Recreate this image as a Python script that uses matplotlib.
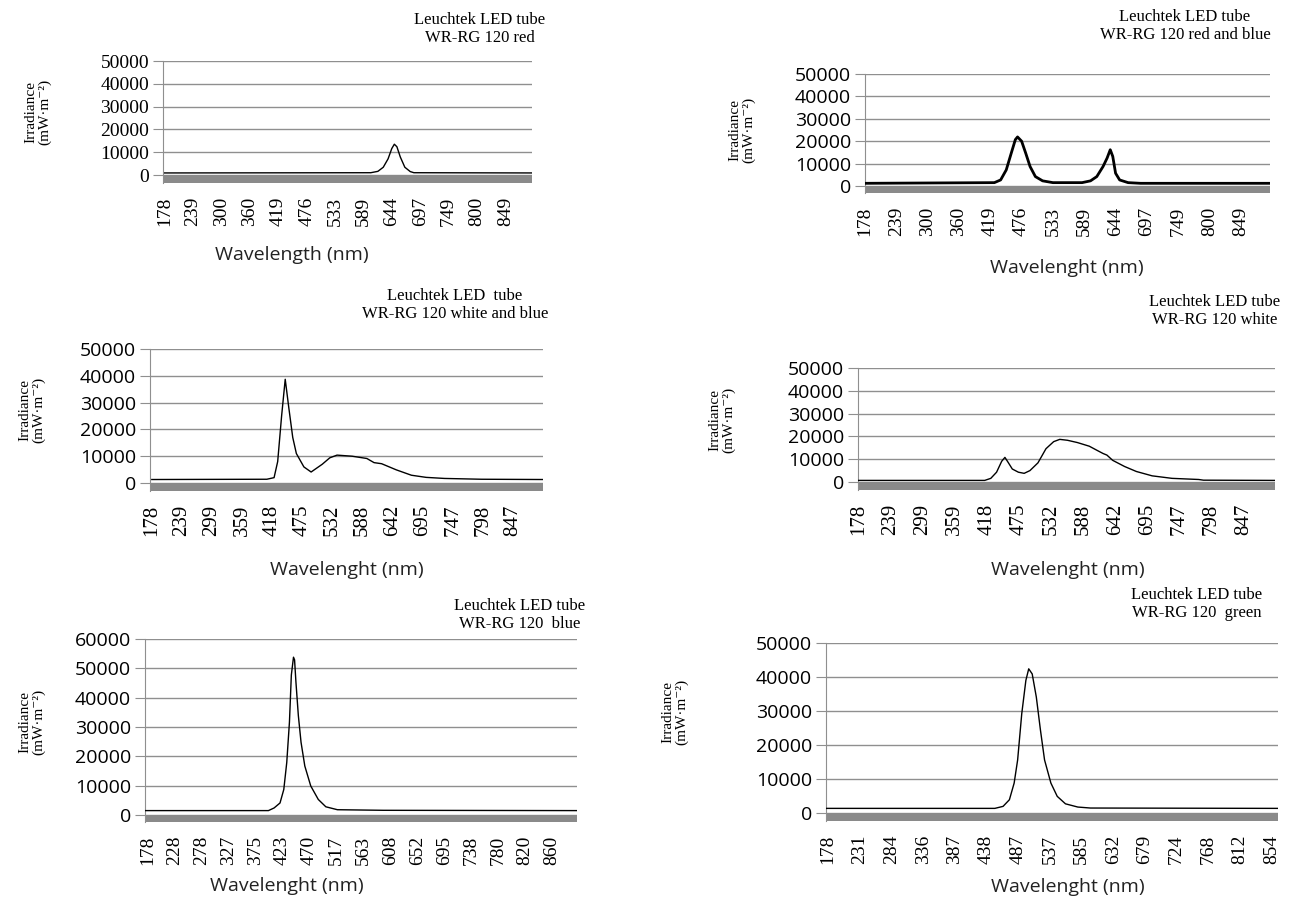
import matplotlib.pyplot as plt

W, H = 1294, 900

# spectra, x in category-axis units (one unit per labelled wavelength)
red_ticks = [178, 239, 300, 360, 419, 476, 533, 589, 644, 697, 749, 800, 849]
red_x = [0, 7.26, 7.51, 7.7, 7.87, 8.0, 8.09, 8.18, 8.3, 8.46, 8.65, 8.78, 12.94]
red_y = [900, 1000, 1600, 3400, 7100, 11600, 13500, 12400, 7900, 3400, 1500, 1000, 900]

rb_ticks = [178, 239, 300, 360, 419, 476, 533, 589, 644, 697, 749, 800, 849]
rb_x = [0, 4.13, 4.33, 4.51, 4.67, 4.8, 4.87, 5.0, 5.13, 5.27, 5.44, 5.67, 6.0,
        6.93, 7.2, 7.4, 7.6, 7.73, 7.83, 7.91, 8.0, 8.13, 8.4, 8.8, 12.93]
rb_y = [1200, 1500, 2700, 7200, 14700, 20700, 21900, 20000, 14700, 8700, 4200, 2300, 1500,
        1500, 2300, 4200, 8700, 12500, 16200, 13200, 5700, 2700, 1500, 1200, 1200]

wb_ticks = [178, 239, 299, 359, 418, 475, 532, 588, 642, 695, 747, 798, 847]
wb_x = [0, 3.82, 4.06, 4.18, 4.31, 4.43, 4.55, 4.68, 4.8, 5.05, 5.29, 5.66, 5.91, 6.15,
        6.65, 7.14, 7.38, 7.63, 8.12, 8.62, 9.11, 9.72, 10.95, 12.99]
wb_y = [1300, 1400, 2000, 8000, 25000, 38700, 28000, 17000, 11000, 6000, 4100, 7000, 9400, 10400,
        10000, 9150, 7600, 7200, 4900, 2900, 2100, 1700, 1400, 1300]

wh_ticks = [178, 239, 299, 359, 418, 475, 532, 588, 642, 695, 747, 798, 847]
wh_x = [0, 3.93, 4.12, 4.3, 4.46, 4.56, 4.67, 4.79, 4.98, 5.16, 5.34, 5.59, 5.84, 6.08, 6.27,
        6.51, 6.82, 7.19, 7.43, 7.62, 7.74, 7.92, 8.29, 8.66, 9.15, 9.77, 10.6, 10.75, 12.98]
wh_y = [700, 700, 1600, 4300, 9100, 10800, 8400, 5700, 4300, 3800, 5000, 8400, 14600, 17700, 18700,
        18300, 17300, 15700, 13900, 12500, 11800, 9500, 6800, 4600, 2700, 1600, 1100, 800, 700]

bl_ticks = [178, 228, 278, 327, 375, 423, 470, 517, 563, 608, 652, 695, 738, 780, 820, 860]
bl_x = [-0.1, 4.48, 4.69, 4.91, 5.05, 5.16, 5.26, 5.33, 5.41, 5.45, 5.5, 5.59, 5.69, 5.83,
        6.05, 6.33, 6.61, 7.04, 8.75, 15.93]
bl_y = [1500, 1500, 2400, 4100, 8700, 17900, 31700, 47700, 53800, 52900, 45400, 33900, 24800, 16700,
        9900, 5300, 2800, 1800, 1600, 1500]

gr_ticks = [178, 231, 284, 336, 387, 438, 487, 537, 585, 632, 679, 724, 768, 812, 854]
gr_x = [-0.07, 5.26, 5.52, 5.72, 5.87, 5.98, 6.11, 6.24, 6.33, 6.44, 6.57, 6.7, 6.83, 7.03,
        7.23, 7.49, 7.88, 8.28, 14.2]
gr_y = [1360, 1360, 1950, 3900, 8800, 15600, 29200, 39000, 42400, 40900, 34100, 24400, 15600, 8800,
        4900, 2700, 1750, 1460, 1360]

serif = ['Liberation Serif', 'DejaVu Serif']
sans = ['Open Sans', 'DejaVu Sans']
grid_col = '#8f8f8f'

panels = [
    # box px = (left, right, top gridline, zero line, grey band height)
    dict(x=red_x, y=red_y, ticks=red_ticks, xlim=(-0.06, 12.94), ymax=50000, box=(163, 532, 61, 175, 8),
         title='Leuchtek LED tube\nWR-RG 120 red', txy=(480, 29), yxy=(38, 112),
         xlab='Wavelength (nm)', xxy=(292, 255), ytfont=serif, xtsize=14, lw=1.0),
    dict(x=rb_x, y=rb_y, ticks=rb_ticks, xlim=(0, 12.93), ymax=50000, box=(865, 1270, 74, 186, 7),
         title='Leuchtek LED tube\nWR-RG 120 red and blue', txy=(1185, 26), yxy=(742, 130),
         xlab='Wavelenght (nm)', xxy=(1067, 268), ytfont=sans, xtsize=14, lw=2.0),
    dict(x=wb_x, y=wb_y, ticks=wb_ticks, xlim=(-0.06, 12.99), ymax=50000, box=(150, 543, 349, 483, 8),
         title='Leuchtek LED  tube\nWR-RG 120 white and blue', txy=(455, 305), yxy=(32, 410),
         xlab='Wavelenght (nm)', xxy=(347, 570), ytfont=sans, xtsize=15, lw=1.0),
    dict(x=wh_x, y=wh_y, ticks=wh_ticks, xlim=(-0.02, 12.98), ymax=50000, box=(858, 1275, 368, 482, 8),
         title='Leuchtek LED tube\nWR-RG 120 white', txy=(1215, 311), yxy=(722, 420),
         xlab='Wavelenght (nm)', xxy=(1068, 570), ytfont=sans, xtsize=15, lw=1.0),
    dict(x=bl_x, y=bl_y, ticks=bl_ticks, xlim=(-0.1, 15.93), ymax=60000, box=(145, 577, 639, 815, 7),
         title='Leuchtek LED tube\nWR-RG 120  blue', txy=(520, 615), yxy=(32, 722),
         xlab='Wavelenght (nm)', xxy=(287, 886), ytfont=sans, xtsize=14, lw=1.0),
    dict(x=gr_x, y=gr_y, ticks=gr_ticks, xlim=(-0.07, 14.2), ymax=50000, box=(826, 1278, 643, 813, 8),
         title='Leuchtek LED tube\nWR-RG 120  green', txy=(1197, 604), yxy=(675, 712),
         xlab='Wavelenght (nm)', xxy=(1068, 887), ytfont=sans, xtsize=14, lw=1.0),
]

fig = plt.figure(figsize=(W / 100, H / 100), dpi=100)

for p in panels:
    left, right, top, zero, band = p['box']
    ymax = p['ymax']
    band_val = band / (zero - top) * ymax
    ax = fig.add_axes([left / W, 1 - (zero + band) / H, (right - left) / W, (zero + band - top) / H])
    ax.plot(p['x'], p['y'], color='black', lw=p['lw'], zorder=3)
    ax.axhspan(-band_val, 0, color='#8a8a8a', lw=0, zorder=2)
    ax.set_xlim(*p['xlim'])
    ax.set_ylim(-band_val, ymax)
    ax.set_yticks(range(0, ymax + 1, 10000))
    ax.set_yticklabels([str(v) for v in range(0, ymax + 1, 10000)], family=p['ytfont'], fontsize=14)
    ax.set_xticks(range(len(p['ticks'])))
    ax.set_xticklabels([str(t) for t in p['ticks']], rotation=90, family=serif, fontsize=p['xtsize'])
    ax.tick_params(axis='x', length=0, pad=10)
    ax.tick_params(axis='y', length=7, color=grid_col, pad=3)
    ax.grid(axis='y', color=grid_col, lw=1, zorder=1)
    for s in ['top', 'right', 'bottom']:
        ax.spines[s].set_visible(False)
    ax.spines['left'].set_color(grid_col)
    ax.set_facecolor('none')

    fig.text(p['txy'][0] / W, 1 - p['txy'][1] / H, p['title'], ha='center', va='center',
             family=serif, fontsize=12, linespacing=1.2)
    fig.text(p['yxy'][0] / W, 1 - p['yxy'][1] / H, 'Irradiance\n(mW·m⁻²)', ha='center', va='center',
             rotation=90, family=serif, fontsize=11, linespacing=1.0)
    fig.text(p['xxy'][0] / W, 1 - p['xxy'][1] / H, p['xlab'], ha='center', va='center',
             family=sans, fontsize=14, color='#222222')

fig.savefig('out.png', dpi=100, facecolor='white')
